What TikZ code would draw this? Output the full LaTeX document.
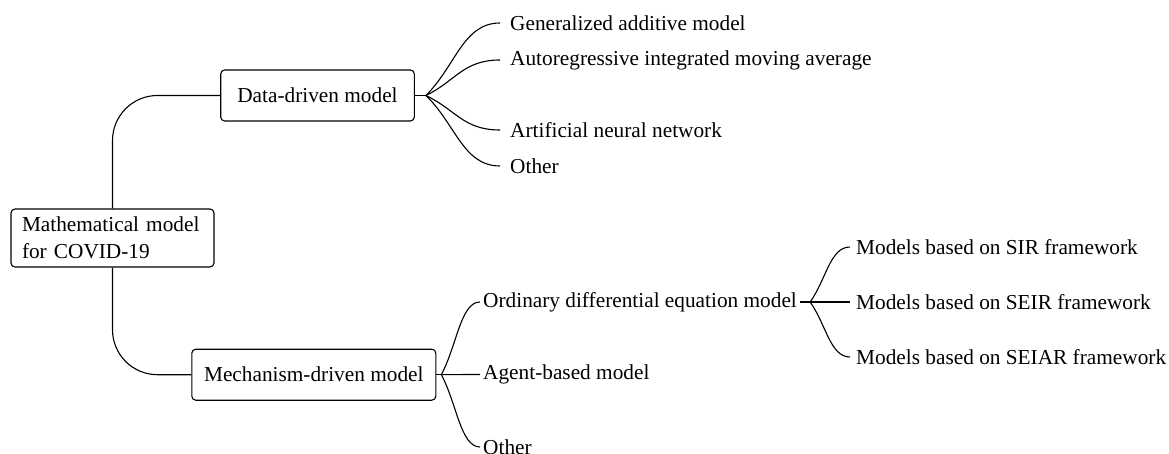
\documentclass[tikz,border=0pt]{standalone}
\usepackage{fontspec}
\setmainfont{Liberation Serif}
\usepackage{tikz}
\usetikzlibrary{calc}
\tikzstyle{line}=[black,line width=1.1pt]
\tikzstyle{box}=[draw=black,line width=1.1pt,rounded corners=4pt,inner sep=0pt,minimum height=51pt]
\tikzstyle{leaf}=[anchor=west,inner ysep=2pt,inner xsep=#1]

\begin{document}
\begin{tikzpicture}[x=1pt, y=-1pt, font=\fontsize{21.3}{26.5}\selectfont]

	\useasboundingbox (0,0) rectangle (1169,454);

	%boxes
	\node[box,minimum width=203pt,minimum height=58pt,text width=181pt,align=left] (root) at (112.5,238)
		{Mathematical model\\for COVID-19};
	\node[box,minimum width=193.6pt] (dd) at (317.5,95.5) {Data-driven model};
	\node[box,minimum width=244pt] (md) at (313.8,374.7) {Mechanism-driven model};

	%leaves
	\node[leaf=10pt] (gam) at (500,23) {Generalized additive model};
	\node[leaf=10pt] (arima) at (500,60) {Autoregressive integrated moving average};
	\node[leaf=10pt] (ann) at (500,130) {Artificial neural network};
	\node[leaf=10pt] (ddother) at (500,166) {Other};
	\node[leaf=3pt] (ode) at (480,302) {Ordinary differential equation model};
	\node[leaf=3pt] (abm) at (480,374.5) {Agent-based model};
	\node[leaf=3pt] (mdother) at (480,447) {Other};
	\node[leaf=6pt] (sir) at (850,247) {Models based on SIR framework};
	\node[leaf=6pt] (seir) at (850,302) {Models based on SEIR framework};
	\node[leaf=6pt] (seiar) at (850,357) {Models based on SEIAR framework};

	%root branches
	\draw[line,rounded corners=45pt] (root.north) |- (dd.west);
	\draw[line,rounded corners=45pt] (root.south) |- (md.west);

	%forks
	\draw[line] (dd.east) -- ++(11,0) coordinate (ddfork);
	\draw[line] (md.east) -- ++(5,0) coordinate (mdfork);
	\draw[line] (ode.east) -- ++(10,0) coordinate (odefork);

	\foreach \f/\leaves in {ddfork/{gam,arima,ann,ddother},
	                        mdfork/{ode,abm,mdother},
	                        odefork/{sir,seir,seiar}}
		\foreach \l in \leaves
			\draw[line] (\f) .. controls ($(\f)!.4!(\l.west)$)
				and ($(\l.west)!.5!(\f |- \l.west)$) .. (\l.west);
\end{tikzpicture}
\end{document}
